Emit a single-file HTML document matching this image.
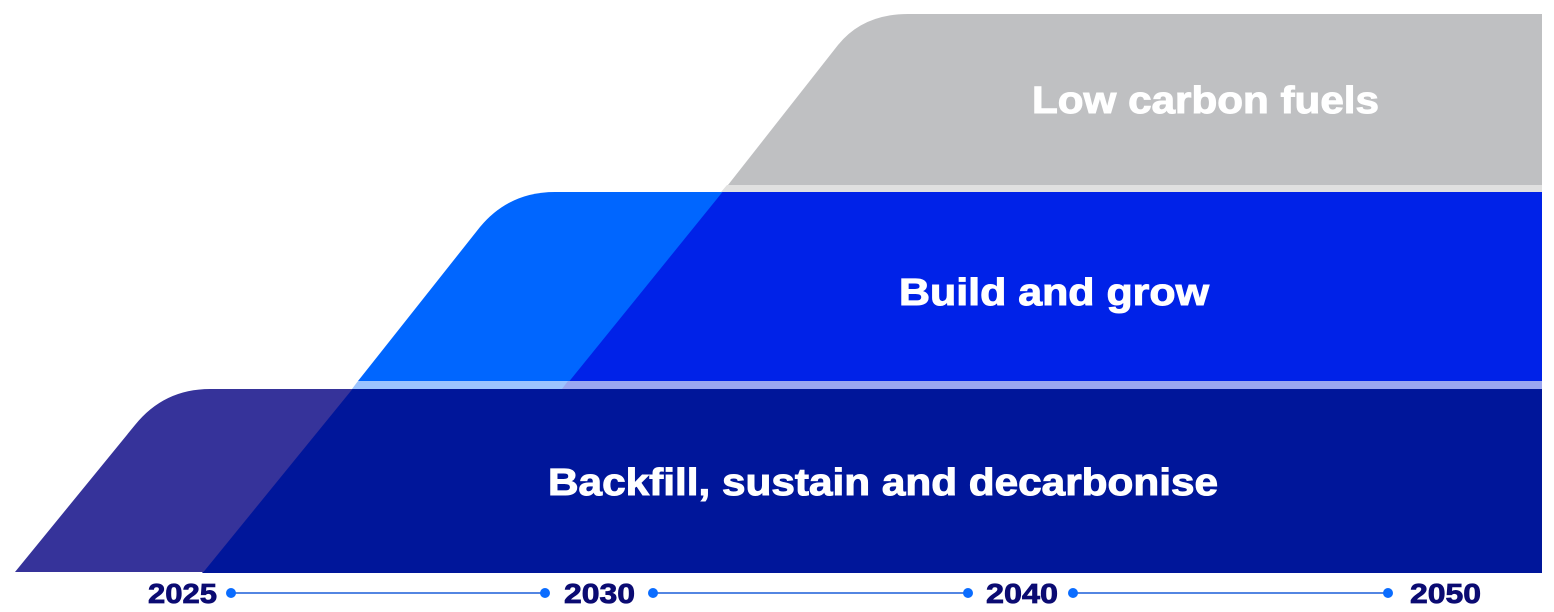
<!DOCTYPE html>
<html><head><meta charset="utf-8"><style>html,body{margin:0;padding:0;background:#fff;}svg{display:block;}</style></head>
<body>
<svg width="1554" height="612" viewBox="0 0 1554 612" xmlns="http://www.w3.org/2000/svg">
<path d="M351,389 L1542,389 L1542,573 L202,573 Z" fill="#00169a"/>
<path d="M15,572 L135,425 Q164,389 210,389 L352.5,389 L203.5,572 Z" fill="#36339a"/>
<path d="M358,381 L569,381 L563,389 L352,389 Z" fill="#9cc4ff"/>
<path d="M568,381 L1542,381 L1542,389 L562,389 Z" fill="#9aa6f0"/>
<path d="M721,192 L1542,192 L1542,381 L568,381 Z" fill="#0022e8"/>
<path d="M358,381 L480,227 Q509,192 555,192 L722.5,192 L569.5,381 Z" fill="#0066ff"/>
<path d="M727,185 L1542,185 L1542,192 L721,192 Z" fill="#e0e0e0"/>
<path d="M728,185 L838,45 Q863,14 908,14 L1542,14 L1542,185 Z" fill="#bfc0c2"/>
<g font-family="Liberation Sans, sans-serif" font-weight="bold" fill="#fff" stroke="#fff" stroke-width="1" font-size="38">
<text x="1032" y="113" textLength="347" lengthAdjust="spacingAndGlyphs">Low carbon fuels</text>
<text x="899" y="305" textLength="310" lengthAdjust="spacingAndGlyphs">Build and grow</text>
<text x="548" y="495" textLength="670" lengthAdjust="spacingAndGlyphs">Backfill, sustain and decarbonise</text>
</g>
<g stroke="#1a5fd8" stroke-width="1.5">
<line x1="231" y1="593" x2="545" y2="593"/>
<line x1="653" y1="593" x2="968" y2="593"/>
<line x1="1073" y1="593" x2="1388" y2="593"/>
</g>
<g fill="#0a6cff">
<circle cx="231" cy="593" r="5"/><circle cx="545" cy="593" r="5"/>
<circle cx="653" cy="593" r="5"/><circle cx="968" cy="593" r="5"/>
<circle cx="1073" cy="593" r="5"/><circle cx="1388" cy="593" r="5"/>
</g>
<g font-family="Liberation Sans, sans-serif" font-weight="bold" fill="#0b0b72" stroke="#0b0b72" stroke-width="0.8" font-size="28">
<text x="148" y="603" textLength="69" lengthAdjust="spacingAndGlyphs">2025</text>
<text x="564" y="603" textLength="71" lengthAdjust="spacingAndGlyphs">2030</text>
<text x="986" y="603" textLength="72" lengthAdjust="spacingAndGlyphs">2040</text>
<text x="1410" y="603" textLength="71" lengthAdjust="spacingAndGlyphs">2050</text>
</g>
</svg>
</body></html>
